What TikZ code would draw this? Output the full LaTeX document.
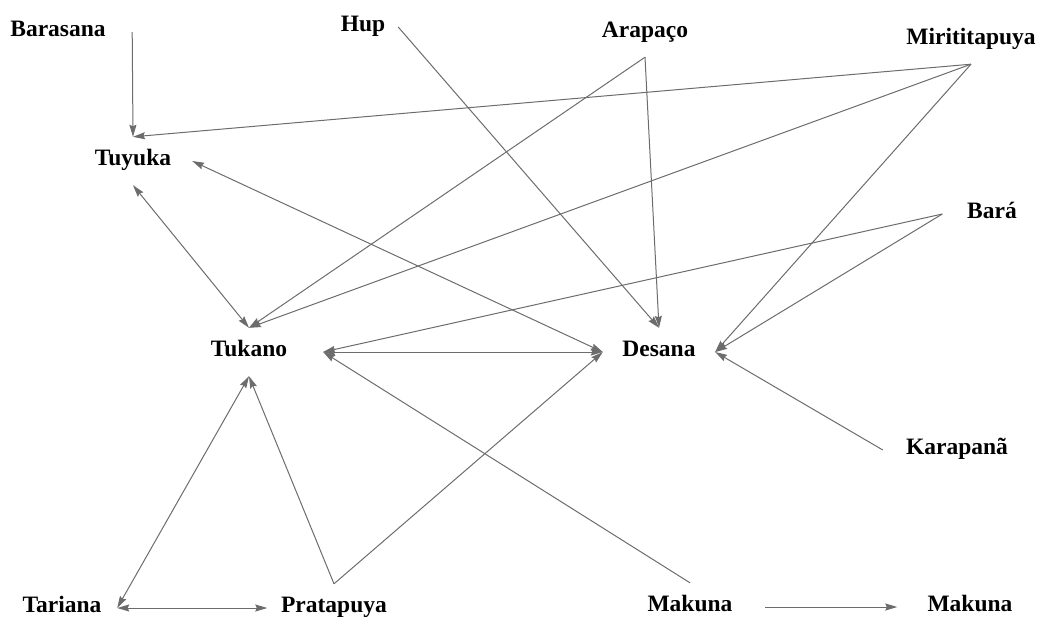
\documentclass[tikz,border=0pt]{standalone}
\usepackage{fontspec}
\setmainfont{Liberation Serif}
\usetikzlibrary{arrows.meta}
\definecolor{edgegray}{RGB}{108,108,108}
\begin{document}
\begin{tikzpicture}[x=1pt, y=-1pt,
  lang/.style={inner sep=0pt, minimum height=48pt, text height=15pt, text depth=7pt,
    font=\fontsize{23.5}{26}\selectfont\bfseries},
  link/.style={draw=edgegray, line width=1pt},
  >={Stealth[length=12pt, width=7pt, inset=1.5pt, fill=edgegray]}]
\useasboundingbox (0,0) rectangle (1039,616);
\node[lang, minimum width=148pt] (bar) at (58,32) {Barasana};
\node[lang, minimum width=70pt] (hup) at (363,27) {Hup};
\node[lang, minimum width=90pt] (ara) at (645,33) {Arapaço};
\node[lang, minimum width=140pt] (mir) at (971,40) {Mirititapuya};
\node[lang, minimum width=118pt] (tuy) at (133,161) {Tuyuka};
\node[lang, minimum width=99pt] (bara) at (992,214) {Bará};
\node[lang, minimum width=148pt] (tuk) at (249,352) {Tukano};
\node[lang, minimum width=112pt] (des) at (659,352) {Desana};
\node[lang, minimum width=148pt] (kar) at (957,450) {Karapanã};
\node[lang, minimum width=110pt] (tar) at (62,608) {Tariana};
\node[lang, minimum width=133pt] (pra) at (334,608) {Pratapuya};
\node[lang, minimum width=150pt] (mak) at (690,607) {Makuna};
\node[lang, minimum width=145pt] (makb) at (970,607) {Makuna};
% into Tuyuka
\draw[link, ->] (bar.east) to (tuy.north);
\draw[link, ->] (mir.south) to (tuy.north);
% into Tukano
\draw[link, ->] (mir.south) to (tuk.north);
\draw[link, ->] (ara.south) to (tuk.north);
\draw[link, <->] (tuy.south) to (tuk.north);
\draw[link, ->] (bara.west) to (tuk.east);
\draw[link, ->] (mak.north) to (tuk.east);
\draw[link, ->] (pra.north) to (tuk.south);
\draw[link, <->] (tar.east) to (tuk.south);
% into Desana
\draw[link, ->] (hup.east) to (des.north);
\draw[link, ->] (ara.south) to (des.north);
\draw[link, <->] (tuy.east) to (des.west);
\draw[link, <->] (tuk.east) to (des.west);
\draw[link, ->] (pra.north) to (des.west);
\draw[link, ->] (mir.south) to (des.east);
\draw[link, ->] (bara.west) to (des.east);
\draw[link, ->] (kar.west) to (des.east);
% bottom row
\draw[link, <->] (tar.east) to (pra.west);
\draw[link, ->] (mak.east) to (makb.west);
\end{tikzpicture}
\end{document}
